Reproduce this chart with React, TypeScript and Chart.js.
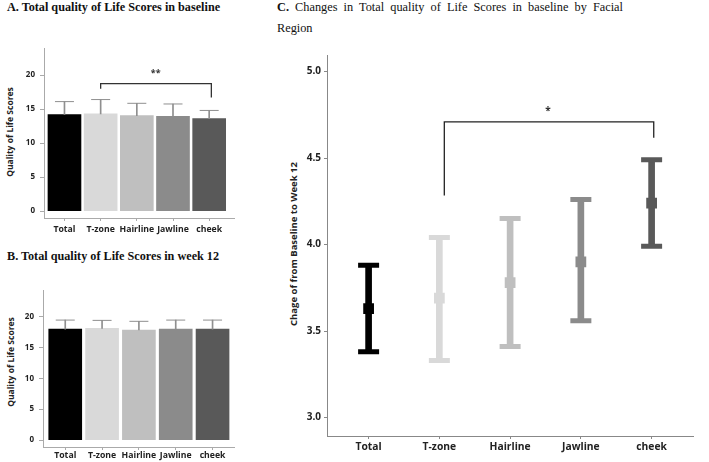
import React, { useEffect, useRef } from 'react';
import { Chart, registerables } from 'chart.js';
Chart.register(...registerables);

// ---------- data ----------
const categories = ['Total', 'T-zone', 'Hairline', 'Jawline', 'cheek'];
const colors = ['#000000', '#d9d9d9', '#bfbfbf', '#8b8b8b', '#595959'];

const baselineMeans = [14.2, 14.3, 14.05, 13.95, 13.6];
const baselineSD = [1.9, 2.1, 1.8, 1.8, 1.2];

const week12Means = [17.95, 18.05, 17.8, 17.95, 17.95];
const week12SD = [1.45, 1.3, 1.4, 1.45, 1.45];

const changeMeans = [3.63, 3.69, 3.78, 3.9, 4.24];
const changeLower = [3.38, 3.33, 3.41, 3.56, 3.99];
const changeUpper = [3.88, 4.04, 4.15, 4.26, 4.49];

const barTicks = [0, 5, 10, 15, 20];
const changeTicks = [3.0, 3.5, 4.0, 4.5, 5.0];

const bracketAX = [1, 1, 4.06, 4.06];
const bracketAY = [17.99, 18.75, 18.75, 16.69];
const sigLabelA = '**';
const sigPosA = [2.52, 20.3];

const bracketCX = [1.07, 1.07, 4.03, 4.03];
const bracketCY = [4.284, 4.709, 4.709, 4.618];
const sigLabelC = '*';
const sigPosC = [2.535, 4.772];

const FONT = "'Open Sans', sans-serif";
const SERIF = "'Liberation Serif', 'Times New Roman', serif";

function sigPlugin(label: string, pos: number[], size: number) {
  return {
    id: 'sig',
    afterDatasetsDraw(chart: any) {
      const { ctx, scales } = chart;
      ctx.save();
      ctx.font = `bold ${size}px ${FONT}`;
      ctx.fillStyle = '#333';
      ctx.textAlign = 'center';
      ctx.textBaseline = 'middle';
      ctx.fillText(label, scales.x.getPixelForValue(pos[0]), scales.y.getPixelForValue(pos[1]));
      ctx.restore();
    },
  };
}

function barChartConfig(o: any) {
  const { means, sds, xmin, xmax, ymin, ymax, padding, yWidth, xHeight, xPad, bracketX, bracketY, sig } = o;
  const datasets: any[] = [];
  if (bracketX) {
    datasets.push({
      type: 'line',
      data: bracketX.map((x: number, i: number) => ({ x, y: bracketY[i] })),
      borderColor: '#333',
      borderWidth: 1.3,
      pointRadius: 0,
      fill: false,
      tension: 0,
      order: 0,
    });
  }
  datasets.push(
    {
      type: 'line',
      data: means.map((m: number, i: number) => ({ x: i, y: m + sds[i] })),
      showLine: false,
      pointStyle: 'line',
      pointRadius: 9.5,
      pointHoverRadius: 9.5,
      pointBorderColor: '#8f8f8f',
      pointBorderWidth: 1,
      order: 1,
    },
    {
      type: 'bar',
      data: means.map((m: number, i: number) => ({ x: i, y: [m, m + sds[i]] })),
      backgroundColor: '#8f8f8f',
      barThickness: 1,
      grouped: false,
      order: 2,
    },
    {
      type: 'bar',
      data: means.map((m: number, i: number) => ({ x: i, y: m })),
      backgroundColor: colors,
      barThickness: 33,
      grouped: false,
      order: 3,
    }
  );
  return {
    type: 'bar',
    data: { datasets },
    options: {
      animation: false,
      responsive: false,
      maintainAspectRatio: false,
      layout: { padding },
      plugins: { legend: { display: false }, tooltip: { enabled: false } },
      scales: {
        x: {
          type: 'linear',
          offset: false,
          min: xmin,
          max: xmax,
          afterBuildTicks: (s: any) => {
            s.ticks = categories.map((_, i) => ({ value: i }));
          },
          afterFit: (s: any) => {
            s.height = xHeight;
          },
          ticks: {
            callback: (v: any) => categories[v],
            autoSkip: false,
            maxRotation: 0,
            padding: xPad,
            color: '#222',
            font: { family: FONT, weight: 'bold', size: 8.7 },
          },
          grid: { offset: false, drawOnChartArea: false, tickLength: 3, color: '#aaa' },
          border: { color: '#aaa', width: 1 },
        },
        y: {
          min: ymin,
          max: ymax,
          afterBuildTicks: (s: any) => {
            s.ticks = barTicks.map((v) => ({ value: v }));
          },
          afterFit: (s: any) => {
            s.width = yWidth;
          },
          ticks: {
            padding: 5,
            color: '#222',
            font: { family: FONT, weight: 'bold', size: 8 },
          },
          grid: { drawOnChartArea: false, tickLength: 4, color: '#aaa' },
          border: { color: '#aaa', width: 1 },
        },
      },
    },
    plugins: sig ? [sigPlugin(sig[0], sig[1], 9)] : [],
  };
}

function changeChartConfig() {
  const datasets: any[] = [
    {
      type: 'line',
      data: bracketCX.map((x, i) => ({ x, y: bracketCY[i] })),
      borderColor: '#222',
      borderWidth: 1.3,
      pointRadius: 0,
      fill: false,
      order: 0,
    },
    {
      type: 'line',
      data: changeMeans.map((m, i) => ({ x: i, y: m })),
      showLine: false,
      pointStyle: 'rect',
      pointRadius: 7.6,
      pointHoverRadius: 7.6,
      pointBackgroundColor: colors,
      pointBorderColor: colors,
      pointBorderWidth: 0,
      order: 1,
    },
    {
      type: 'line',
      data: changeUpper.map((v, i) => ({ x: i, y: v })),
      showLine: false,
      pointStyle: 'line',
      pointRadius: 10.5,
      pointHoverRadius: 10.5,
      pointBorderColor: colors,
      pointBorderWidth: 5,
      order: 1,
    },
    {
      type: 'line',
      data: changeLower.map((v, i) => ({ x: i, y: v })),
      showLine: false,
      pointStyle: 'line',
      pointRadius: 10.5,
      pointHoverRadius: 10.5,
      pointBorderColor: colors,
      pointBorderWidth: 5,
      order: 1,
    },
    {
      type: 'bar',
      data: changeLower.map((v, i) => ({ x: i, y: [v, changeUpper[i]] })),
      backgroundColor: colors,
      barThickness: 6,
      grouped: false,
      order: 2,
    },
  ];
  return {
    type: 'bar',
    data: { datasets },
    options: {
      animation: false,
      responsive: false,
      maintainAspectRatio: false,
      layout: { padding: { top: 12, right: 3, left: 0, bottom: 0 } },
      plugins: { legend: { display: false }, tooltip: { enabled: false } },
      scales: {
        x: {
          type: 'linear',
          offset: false,
          min: -0.588,
          max: 4.592,
          afterBuildTicks: (s: any) => {
            s.ticks = categories.map((_, i) => ({ value: i }));
          },
          afterFit: (s: any) => {
            s.height = 26;
          },
          ticks: {
            callback: (v: any) => categories[v],
            autoSkip: false,
            maxRotation: 0,
            padding: 2,
            color: '#222',
            font: { family: FONT, weight: 'bold', size: 10.3 },
          },
          grid: { offset: false, drawOnChartArea: false, tickLength: 3, color: '#888' },
          border: { color: '#888', width: 1 },
        },
        y: {
          min: 2.893,
          max: 5.093,
          afterBuildTicks: (s: any) => {
            s.ticks = changeTicks.map((v) => ({ value: v }));
          },
          afterFit: (s: any) => {
            s.width = 47;
          },
          ticks: {
            callback: (v: any) => Number(v).toFixed(1),
            padding: 3,
            color: '#222',
            font: { family: FONT, weight: 'bold', size: 10 },
          },
          grid: { drawOnChartArea: false, tickLength: 3, color: '#888' },
          border: { color: '#888', width: 1 },
        },
      },
    },
    plugins: [sigPlugin(sigLabelC, sigPosC, 10)],
  };
}

function ChartCanvas({ config, left, top, width, height }: any) {
  const ref = useRef<HTMLCanvasElement>(null);
  useEffect(() => {
    const chart = new Chart(ref.current as HTMLCanvasElement, config());
    return () => chart.destroy();
  }, []);
  return (
    <canvas
      ref={ref}
      width={width}
      height={height}
      style={{ position: 'absolute', left, top, width, height }}
    />
  );
}

function AxisTitle({ text, cx, cy, size }: any) {
  return (
    <div
      style={{
        position: 'absolute',
        left: cx,
        top: cy,
        transform: 'translate(-50%, -50%) rotate(-90deg)',
        whiteSpace: 'nowrap',
        fontFamily: FONT,
        fontWeight: 'bold',
        fontSize: size,
        color: '#222',
        lineHeight: 1,
      }}
    >
      {text}
    </div>
  );
}

export default function App() {
  const titleStyle: any = {
    position: 'absolute',
    fontFamily: SERIF,
    fontWeight: 'bold',
    fontSize: 12.2,
    lineHeight: '14px',
    color: '#111',
    whiteSpace: 'nowrap',
  };
  return (
    <div
      style={{
        position: 'fixed',
        left: 0,
        top: 0,
        width: 709,
        height: 462,
        background: '#fff',
        overflow: 'hidden',
      }}
    >
      <div style={{ ...titleStyle, left: 7, top: 0 }}>A. Total quality of Life Scores in baseline</div>
      <div style={{ ...titleStyle, left: 7, top: 249 }}>B. Total quality of Life Scores in week 12</div>
      <div
        style={{
          position: 'absolute',
          left: 277,
          top: 0,
          width: 346,
          fontFamily: SERIF,
          fontSize: 12.3,
          lineHeight: '14px',
          color: '#111',
          textAlign: 'justify',
          textAlignLast: 'justify',
          whiteSpace: 'nowrap',
        } as any}
      >
        <span style={{ fontWeight: 'bold' }}>C.</span> Changes in Total quality of Life Scores in baseline by Facial
      </div>
      <div
        style={{
          position: 'absolute',
          left: 277,
          top: 20.5,
          fontFamily: SERIF,
          fontSize: 12.3,
          lineHeight: '14px',
          color: '#111',
        }}
      >
        Region
      </div>

      <AxisTitle text="Quality of Life Scores" cx={10} cy={132} size={8.5} />
      <AxisTitle text="Quality of Life Scores" cx={11} cy={362} size={8.5} />
      <AxisTitle text="Chage of from Baseline to Week 12" cx={294} cy={244} size={9.5} />

      <ChartCanvas
        left={0}
        top={38}
        width={245}
        height={200}
        config={() =>
          barChartConfig({
            means: baselineMeans,
            sds: baselineSD,
            xmin: -0.566,
            xmax: 4.7,
            ymin: -1.0,
            ymax: 23.9,
            padding: { top: 7, right: 10, left: 0, bottom: 0 },
            yWidth: 44,
            xHeight: 20,
            xPad: 3,
            bracketX: bracketAX,
            bracketY: bracketAY,
            sig: [sigLabelA, sigPosA],
          })
        }
      />
      <ChartCanvas
        left={0}
        top={280}
        width={245}
        height={182}
        config={() =>
          barChartConfig({
            means: week12Means,
            sds: week12SD,
            xmin: -0.604,
            xmax: 4.596,
            ymin: -1.11,
            ymax: 24.18,
            padding: { top: 8, right: 10, left: 0, bottom: 0 },
            yWidth: 43,
            xHeight: 15,
            xPad: 0,
            bracketX: null,
            bracketY: null,
            sig: null,
          })
        }
      />
      <ChartCanvas left={280} top={40} width={429} height={422} config={changeChartConfig} />
    </div>
  );
}
